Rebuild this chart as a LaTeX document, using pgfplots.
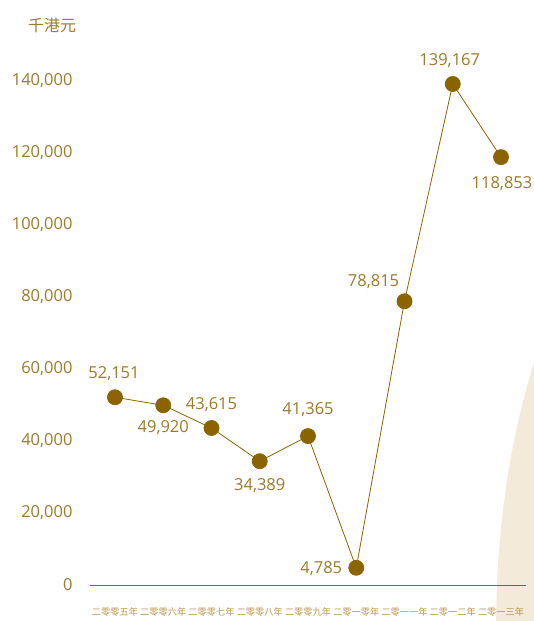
\documentclass[border=0pt]{standalone}
\usepackage{pgfplots}
\pgfplotsset{compat=1.18}
\usepackage{pgfplotstable}
\usepackage{fontspec}
\setmainfont{Open Sans}
\newfontfamily\cjk{Noto Sans CJK SC}
\definecolor{gold}{RGB}{139,100,0}
\definecolor{goldtext}{RGB}{156,122,42}
\definecolor{goldlight}{RGB}{184,150,70}
\definecolor{beige}{RGB}{243,234,218}
\pgfplotstableread{
x y lbl dx dy
0 52151 52,151 -1 24
1 49920 49,920 0 -22
2 43615 43,615 0 23
3 34389 34,389 0 -24
4 41365 41,365 0 26
5 4785 4,785 -35 -1
6 78815 78,815 -31 20
7 139167 139,167 -3 23
8 118853 118,853 1 -26
}\datatable
\begin{document}
\begin{tikzpicture}
\useasboundingbox (0pt,0pt) rectangle (534pt,621pt);
\begin{scope}
\clip (0pt,0pt) rectangle (534pt,621pt);
\fill[beige] (680pt,-10pt) ellipse [x radius=184pt, y radius=440pt];
\end{scope}
\node[anchor=center, text=goldtext, font=\cjk\fontsize{16}{18}\selectfont] at (52pt,596pt) {千港元};
\begin{axis}[
  at={(90pt,36pt)}, anchor=south west,
  scale only axis, width=436pt, height=540pt,
  xmin=-0.518, xmax=8.518, ymin=0, ymax=150000,
  axis x line*=bottom,
  axis y line*=left,
  x axis line style={gold, line width=0.8pt, -},
  y axis line style={draw=none},
  ytick={0,20000,...,140000},
  xtick={0,...,8},
  xticklabels={二零零五年,二零零六年,二零零七年,二零零八年,二零零九年,二零一零年,二零一一年,二零一二年,二零一三年},
  xticklabel style={font=\cjk\fontsize{9.2}{10}\selectfont, text=goldlight, yshift=-19pt},
  yticklabel style={text=goldtext, font=\fontsize{16.5}{18}\selectfont, anchor=east, xshift=-14pt},
  major tick length=0pt,
  clip=false,
  scaled y ticks=false,
  /pgf/number format/assume math mode=true,
  /pgf/number format/fixed,
  /pgf/number format/precision=0,
  /pgf/number format/1000 sep={,},
]
\addplot[gold, line width=0.8pt, mark=*, mark size=7.5pt, mark options={fill=gold, draw=gold},
  point meta=explicit symbolic,
  visualization depends on={\thisrow{dx} \as \dx},
  visualization depends on={\thisrow{dy} \as \dy},
  nodes near coords,
  nodes near coords style={anchor=center, inner sep=0pt, text=goldtext, font=\fontsize{16.5}{18}\selectfont, xshift=\dx pt, yshift=\dy pt},
] table[x=x, y=y, meta=lbl] {\datatable};
\end{axis}
\end{tikzpicture}
\end{document}
